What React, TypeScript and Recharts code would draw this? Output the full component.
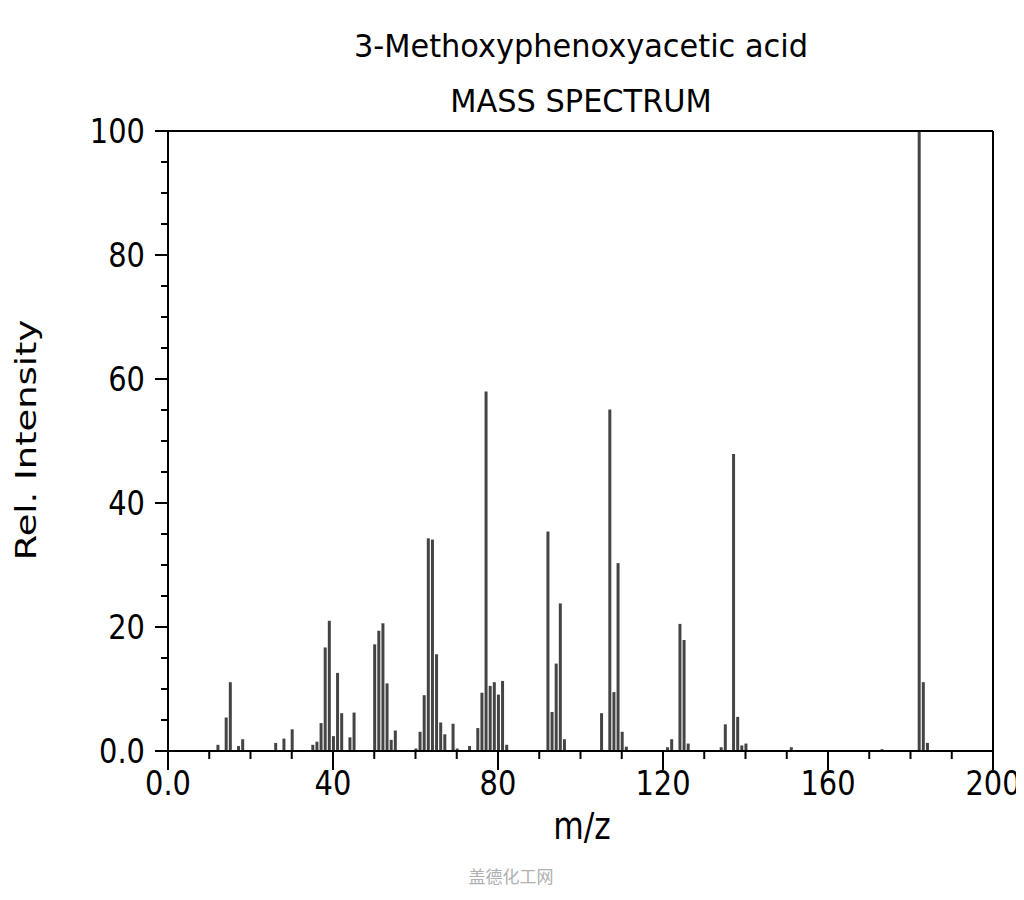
import { Bar, BarChart, ReferenceLine, XAxis, YAxis } from "recharts";

// m/z values and relative intensities
const mzValues = [
  12, 14, 15, 17, 18, 26, 28, 30, 35, 36, 37, 38, 39, 40, 41, 42, 44, 45,
  50, 51, 52, 53, 54, 55, 60, 61, 62, 63, 64, 65, 66, 67, 69, 70, 73, 75,
  76, 77, 78, 79, 80, 81, 82, 92, 93, 94, 95, 96, 105, 107, 108, 109, 110,
  111, 121, 122, 124, 125, 126, 134, 135, 137, 138, 139, 140, 151, 173, 182,
  183, 184,
];
const intensities = [
  1.0, 5.4, 11.1, 0.8, 1.9, 1.3, 2.0, 3.5, 1.0, 1.5, 4.5, 16.7, 21.0, 2.4,
  12.6, 6.1, 2.2, 6.2, 17.2, 19.4, 20.6, 10.9, 1.8, 3.3, 0.4, 3.1, 9.0, 34.3,
  34.1, 15.6, 4.6, 2.7, 4.4, 0.4, 0.8, 3.7, 9.4, 58.0, 10.5, 11.1, 9.1, 11.3,
  1.0, 35.4, 6.3, 14.1, 23.8, 1.9, 6.1, 55.1, 9.5, 30.3, 3.1, 0.7, 0.6, 1.9,
  20.5, 17.9, 1.2, 0.6, 4.3, 47.9, 5.5, 0.9, 1.2, 0.6, 0.3, 100, 11.1, 1.3,
];

const xTicks = [0, 10, 20, 30, 40, 50, 60, 70, 80, 90, 100, 110, 120, 130, 140, 150, 160, 170, 180, 190, 200];
const xLabeled = [0, 40, 80, 120, 160, 200];
const yTicks = [0, 5, 10, 15, 20, 25, 30, 35, 40, 45, 50, 55, 60, 65, 70, 75, 80, 85, 90, 95, 100];
const yLabeled = [0, 20, 40, 60, 80, 100];

const data = mzValues.map((mz, i) => ({ mz, intensity: intensities[i] }));

const FONT = "'DejaVu Sans', sans-serif";
const fmt = (v: number) => (v === 0 ? "0.0" : String(v));

// tick labels in the original are narrow and tall
const XTick = (props: any) => {
  const { x, y, payload } = props;
  const major = xLabeled.includes(payload.value);
  return (
    <g>
      <line x1={x} x2={x} y1={y} y2={y + (major ? 19 : 8)} stroke="#000" strokeWidth={2} />
      {major && (
        <text
          transform={`translate(${x},${y + 20}) scale(0.85,1)`}
          dy="0.71em"
          textAnchor="middle"
          fontSize={34}
          fontFamily={FONT}
          fill="#000"
        >
          {fmt(payload.value)}
        </text>
      )}
    </g>
  );
};

const YTick = (props: any) => {
  const { x, y, payload } = props;
  const major = yLabeled.includes(payload.value);
  return (
    <g>
      <line x1={x - (major ? 13 : 7)} x2={x} y1={y} y2={y} stroke="#000" strokeWidth={2} />
      {major && (
        <text
          transform={`translate(${x - 23},${y}) scale(0.85,1)`}
          dy="0.36em"
          textAnchor="end"
          fontSize={34}
          fontFamily={FONT}
          fill="#000"
        >
          {fmt(payload.value)}
        </text>
      )}
    </g>
  );
};

const titleStyle = {
  position: "absolute" as const,
  left: 573,
  fontSize: 32,
  lineHeight: "32px",
  whiteSpace: "nowrap" as const,
  transform: "translate(-50%, -50%) scale(0.95, 1)",
};

export default function App() {
  return (
    <div style={{ position: "relative", width: 1016, height: 880, fontFamily: FONT }}>
      <div style={{ ...titleStyle, top: 38 }}>3-Methoxyphenoxyacetic acid</div>
      <div style={{ ...titleStyle, top: 93 }}>MASS SPECTRUM</div>

      <BarChart width={1016} height={880} data={data} margin={{ top: 123, right: 31, bottom: 77, left: 60 }}>
        <XAxis
          dataKey="mz"
          type="number"
          domain={[0, 200]}
          ticks={xTicks}
          interval={0}
          tickSize={0}
          tickMargin={0}
          tickLine={false}
          tick={<XTick />}
          height={60}
          axisLine={{ stroke: "#000", strokeWidth: 2 }}
        />
        <YAxis
          type="number"
          domain={[0, 100]}
          ticks={yTicks}
          interval={0}
          tickSize={0}
          tickMargin={0}
          tickLine={false}
          tick={<YTick />}
          width={100}
          axisLine={{ stroke: "#000", strokeWidth: 2 }}
        />
        <ReferenceLine y={100} stroke="#000" strokeWidth={2} />
        <ReferenceLine x={200} stroke="#000" strokeWidth={2} />
        <Bar dataKey="intensity" barSize={3} fill="#444" isAnimationActive={false} />
      </BarChart>

      <div
        style={{
          position: "absolute",
          left: 574,
          top: 818,
          fontSize: 33,
          lineHeight: "33px",
          whiteSpace: "nowrap",
          transform: "translate(-50%, -50%) scale(0.95, 1.15)",
        }}
      >
        m/z
      </div>
      <div
        style={{
          position: "absolute",
          left: 18,
          top: 432,
          fontSize: 29,
          lineHeight: "29px",
          whiteSpace: "nowrap",
          transform: "translate(-50%, -50%) rotate(-90deg) scaleX(1.27)",
        }}
      >
        Rel. Intensity
      </div>
      <div
        style={{
          position: "absolute",
          left: 503,
          top: 867,
          fontSize: 17,
          lineHeight: "17px",
          color: "#b0b0b0",
          whiteSpace: "nowrap",
          transform: "translate(-50%, -50%)",
          fontFamily: "'Noto Sans CJK SC', sans-serif",
        }}
      >
        盖德化工网
      </div>
    </div>
  );
}
